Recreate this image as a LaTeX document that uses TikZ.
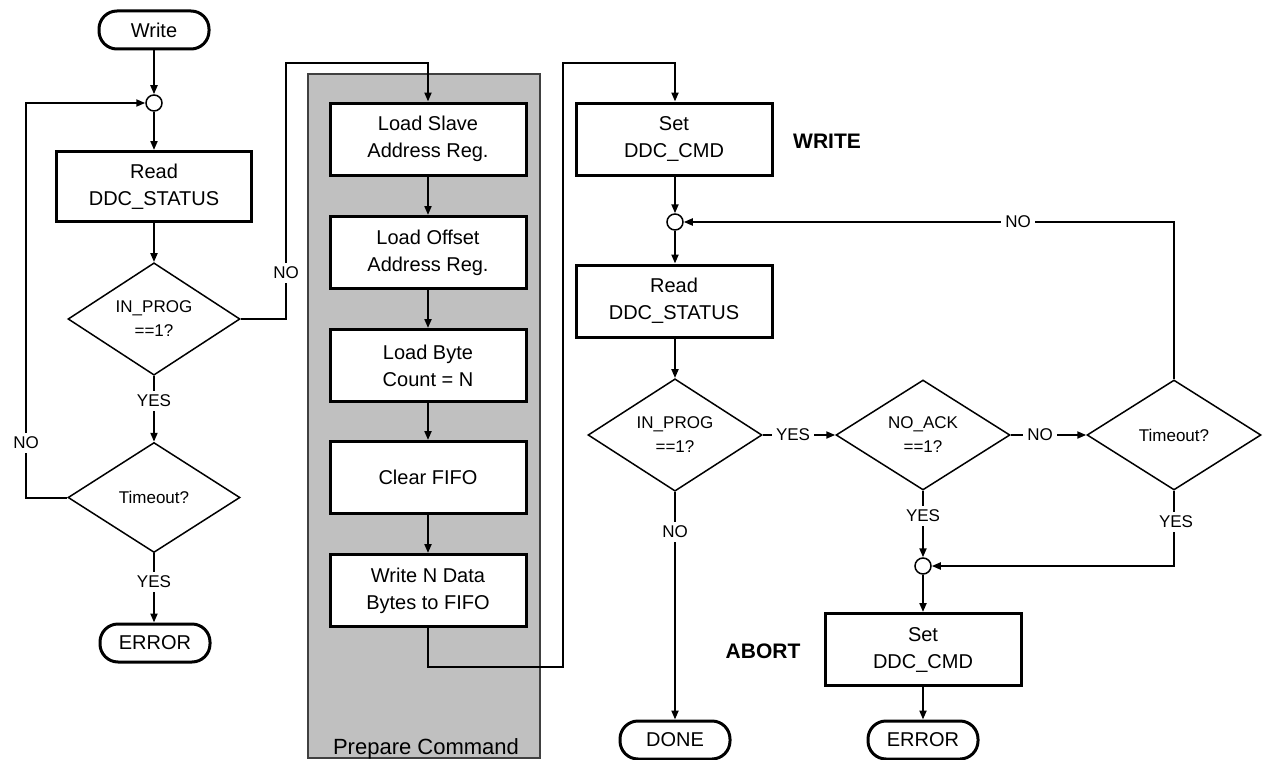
\documentclass[tikz,border=0pt]{standalone}
\usepackage{fontspec}
\setmainfont{Liberation Sans}
\usetikzlibrary{shapes.geometric,arrows.meta}
\definecolor{panel}{RGB}{192,192,192}
\begin{document}
\begin{tikzpicture}[x=1pt,y=-1pt,
 every node/.style={font=\fontsize{20}{27}\selectfont},
 box/.style={draw,line width=3pt,fill=white,minimum width=196pt,minimum height=72pt,align=center,inner sep=0pt},
 term/.style={draw,line width=3pt,fill=white,rounded corners=18pt,minimum width=110pt,minimum height=38pt,inner sep=0pt},
 dia/.style={draw,diamond,line width=1.5pt,fill=white,minimum width=174pt,minimum height=110pt,inner sep=0pt,align=center,font=\fontsize{17}{24}\selectfont},
 merge/.style={draw,circle,line width=1.5pt,fill=white,minimum size=16pt,inner sep=0pt},
 arr/.style={line width=2pt,-{Triangle[length=9pt,width=7pt]}},
 ln/.style={line width=2pt},
 lbl/.style={fill=white,inner sep=4pt,font=\fontsize{17}{20}\selectfont},
 tag/.style={font=\bfseries\fontsize{21}{24}\selectfont},
 panelbox/.style={draw=black!75,fill=panel,line width=1.2pt,minimum width=232pt,minimum height=684pt,inner sep=0pt}]
\useasboundingbox (0,0) rectangle (1264,760);

% panel
\node[panelbox] (prep) at (424,416) {};
\node[anchor=base,font=\fontsize{22}{24}\selectfont] (pc) at (426,754) {Prepare Command};

% left column
\node[term] (w1) at (154,30) {Write};
\node[merge] (m1) at (154,103) {};
\node[box,minimum width=195pt,minimum height=70pt] (r1) at (154,186.5) {Read\\DDC\_STATUS};
\node[dia,minimum width=172pt] (d1) at (154,319) {IN\_PROG\\==1?};
\node[dia,minimum width=172pt] (t1) at (154,497.5) {Timeout?};
\node[term] (e1) at (155,643) {ERROR};

% prepare column
\node[box] (ls) at (428,139) {Load Slave\\Address Reg.};
\node[box] (lo) at (428,252.5) {Load Offset\\Address Reg.};
\node[box] (lb) at (428,365.5) {Load Byte\\Count = N};
\node[box] (cf) at (428,477.5) {Clear FIFO};
\node[box] (wn) at (428,590.5) {Write N Data\\Bytes to FIFO};

% right part
\node[box] (sc) at (674,139) {Set\\DDC\_CMD};
\node[tag] (wr) at (827,141) {WRITE};
\node[merge] (m2) at (675,222) {};
\node[box] (r2) at (674,301) {Read\\DDC\_STATUS};
\node[dia] (d2) at (675,435) {IN\_PROG\\==1?};
\node[dia] (na) at (923,435) {NO\_ACK\\==1?};
\node[dia] (to) at (1174,435) {Timeout?};
\node[merge] (m3) at (923,566) {};
\node[box] (ab) at (923,649.5) {Set\\DDC\_CMD};
\node[tag] (abl) at (763,651) {ABORT};
\node[term] (e2) at (923,740) {ERROR};
\node[term] (dn) at (675,740) {DONE};

\coordinate (cL) at (26,103);
\coordinate (c2) at (286,63);
\coordinate (c3) at (563,667);
\coordinate (c4) at (563,63);

% connectors left
\draw[arr] (w1) -- (m1);
\draw[arr] (m1) -- (r1);
\draw[arr] (r1) -- (d1);
\draw[arr] (d1.south) -- (t1.north);
\draw[arr] (t1.south) -- (e1.north -| t1.south);
\draw[arr] (t1.west) -| (cL) -- (m1.west);
\draw[arr] (d1.east) -| (c2) -| (ls.north);

% prepare chain
\draw[arr] (ls) -- (lo);
\draw[arr] (lo) -- (lb);
\draw[arr] (lb) -- (cf);
\draw[arr] (cf) -- (wn);
\draw[arr] (wn.south) |- (c3) -- (c4) -| (sc.north -| m2);

% right connectors
\draw[arr] (sc.south -| m2) -- (m2);
\draw[arr] (m2) -- (r2.north -| m2);
\draw[arr] (r2.south -| m2) -- (d2.north);
\draw[arr] (d2.east) -- (na.west);
\draw[arr] (na.east) -- (to.west);
\draw[arr] (to.north) |- (m2.east);
\draw[arr] (na.south) -- (m3.north);
\draw[arr] (to.south) |- (m3.east);
\draw[arr] (m3) -- (ab);
\draw[arr] (ab) -- (e2);
\draw[arr] (d2.south) -- (dn.north);

% labels
\node[lbl] (l1) at (286,273) {NO};
\node[lbl] (l2) at (154,401) {YES};
\node[lbl] (l3) at (26,443) {NO};
\node[lbl] (l4) at (154,582) {YES};
\node[lbl] (l5) at (793,435) {YES};
\node[lbl] (l6) at (1040,435) {NO};
\node[lbl] (l7) at (1018,222) {NO};
\node[lbl] (l8) at (923,516) {YES};
\node[lbl] (l9) at (1176,522) {YES};
\node[lbl] (l10) at (675,532) {NO};
\end{tikzpicture}
\end{document}
